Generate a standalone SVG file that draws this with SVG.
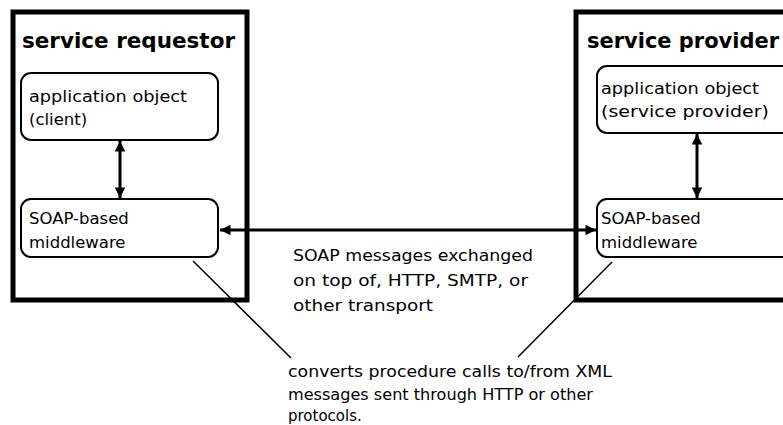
<svg xmlns="http://www.w3.org/2000/svg" width="783" height="425" viewBox="0 0 783 425">
<style>
.outer{fill:none;stroke:#000;stroke-width:5}
.inner{fill:#fff;stroke:#000;stroke-width:2}
.title{font-family:"DejaVu Sans",sans-serif;font-weight:bold;font-size:21px;fill:#000}
.lbl{font-family:"DejaVu Sans",sans-serif;font-size:16.5px;fill:#000}
.note{font-family:"DejaVu Sans",sans-serif;font-size:15px;fill:#000}
.conn{stroke:#000;stroke-width:3;fill:none}
.thin{stroke:#000;stroke-width:1.5;fill:none}
</style>
<defs>
<marker id="ah" viewBox="0 0 10 10" refX="10" refY="5" markerWidth="4" markerHeight="3.5" orient="auto-start-reverse" markerUnits="strokeWidth">
<path d="M0,0 L10,5 L0,10 z" fill="#000"/>
</marker>
</defs>
<rect width="783" height="425" fill="#fff"/>
<g id="requestor">
<rect class="outer" x="13" y="12" width="234" height="288"/>
<text class="title" x="22" y="48" textLength="213" lengthAdjust="spacingAndGlyphs">service requestor</text>
</g>
<g id="req-app">
<rect class="inner" x="21" y="73" width="197" height="67" rx="10"/>
<text class="lbl" x="29" y="102" textLength="158" lengthAdjust="spacingAndGlyphs">application object</text>
<text class="lbl" x="29" y="125">(client)</text>
</g>
<g id="req-mw">
<rect class="inner" x="21" y="199" width="197" height="58" rx="10"/>
<text class="lbl" x="29" y="224">SOAP-based</text>
<text class="lbl" x="29" y="248">middleware</text>
</g>
<g id="provider">
<rect class="outer" x="576" y="12" width="230" height="288"/>
<text class="title" x="587" y="48" textLength="192" lengthAdjust="spacingAndGlyphs">service provider</text>
</g>
<g id="prov-app">
<rect class="inner" x="597" y="66" width="220" height="67" rx="10"/>
<text class="lbl" x="601" y="94" textLength="158" lengthAdjust="spacingAndGlyphs">application object</text>
<text class="lbl" x="601" y="117" textLength="168" lengthAdjust="spacingAndGlyphs">(service provider)</text>
</g>
<g id="prov-mw">
<rect class="inner" x="597" y="199" width="220" height="58" rx="10"/>
<text class="lbl" x="601" y="224">SOAP-based</text>
<text class="lbl" x="601" y="248">middleware</text>
</g>
<g id="connectors">
<line class="conn" x1="120" y1="141" x2="120" y2="198" marker-start="url(#ah)" marker-end="url(#ah)"/>
<line class="conn" x1="697" y1="134" x2="697" y2="198" marker-start="url(#ah)" marker-end="url(#ah)"/>
<line class="conn" x1="220" y1="230" x2="596" y2="230" marker-start="url(#ah)" marker-end="url(#ah)"/>
<line class="thin" x1="193" y1="261" x2="291" y2="358"/>
<line class="thin" x1="612" y1="262" x2="518" y2="357"/>
</g>
<g id="transport-label">
<text class="lbl" x="293" y="261" textLength="240" lengthAdjust="spacingAndGlyphs">SOAP messages exchanged</text>
<text class="lbl" x="293" y="286" textLength="235" lengthAdjust="spacingAndGlyphs">on top of, HTTP, SMTP, or</text>
<text class="lbl" x="293" y="311" textLength="140" lengthAdjust="spacingAndGlyphs">other transport</text>
</g>
<g id="convert-label">
<text class="note" x="288" y="377" textLength="324" lengthAdjust="spacingAndGlyphs">converts procedure calls to/from XML</text>
<text class="note" x="288" y="400" textLength="305" lengthAdjust="spacingAndGlyphs">messages sent through HTTP or other</text>
<text class="note" x="288" y="421">protocols.</text>
</g>
</svg>
